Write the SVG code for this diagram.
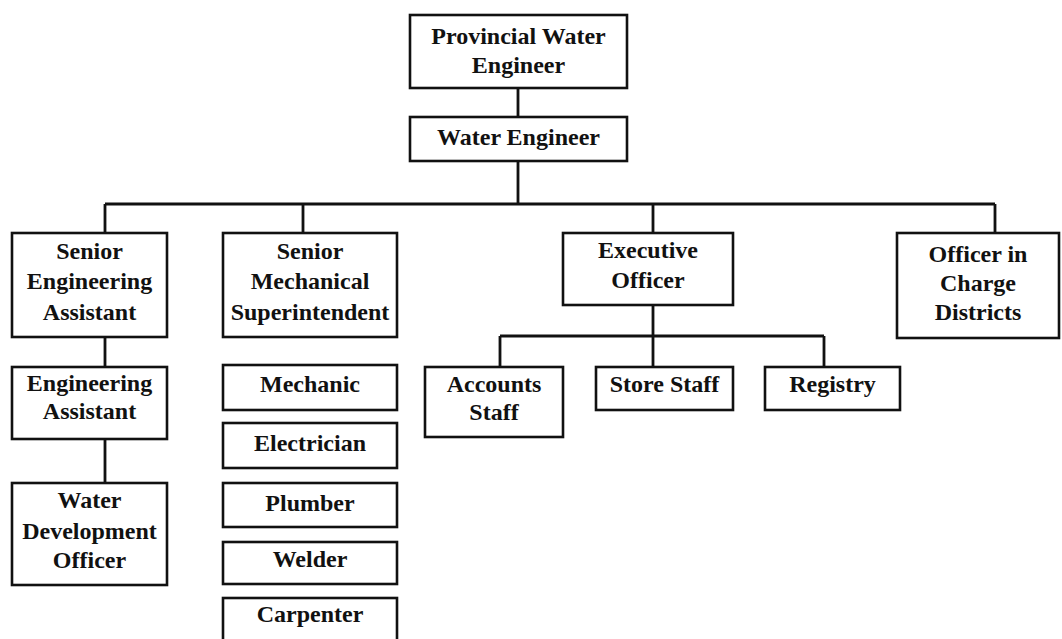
<svg xmlns="http://www.w3.org/2000/svg" width="1062" height="639" viewBox="0 0 1062 639">
<style>
.box{fill:#fff;stroke:#111;stroke-width:2.6}
.t{font-family:"Liberation Serif","Times New Roman",serif;font-size:24px;font-weight:bold;fill:#111;text-anchor:middle}
.c{fill:none;stroke:#111;stroke-width:2.8}
</style>
<rect width="1062" height="639" fill="#fff"/>
<g id="connectors">
<path class="c" d="M518 88V117M518 161V204M105 204H995M105 204V233M303 204V233M653 204V233M995 204V233M105 337V367M105 439V483M653 305V336M500 336H824M500 336V367M653 336V367M824 336V367"/>
</g>
<g id="n-provincial"><rect class="box" x="410" y="15" width="217" height="73"/><text class="t" x="518.5" y="44">Provincial Water</text><text class="t" x="518.5" y="73">Engineer</text></g>
<g id="n-water-engineer"><rect class="box" x="410" y="117" width="217" height="44"/><text class="t" x="518.5" y="145">Water Engineer</text></g>
<g id="n-sea"><rect class="box" x="12" y="233" width="155" height="104"/><text class="t" x="89.5" y="259">Senior</text><text class="t" x="89.5" y="289">Engineering</text><text class="t" x="89.5" y="320">Assistant</text></g>
<g id="n-smi"><rect class="box" x="223" y="233" width="174" height="104"/><text class="t" x="310" y="259">Senior</text><text class="t" x="310" y="289">Mechanical</text><text class="t" x="310" y="320">Superintendent</text></g>
<g id="n-exec"><rect class="box" x="563" y="233" width="170" height="72"/><text class="t" x="648" y="258">Executive</text><text class="t" x="648" y="288">Officer</text></g>
<g id="n-oic"><rect class="box" x="897" y="233" width="162" height="105"/><text class="t" x="978" y="262">Officer in</text><text class="t" x="978" y="291">Charge</text><text class="t" x="978" y="320">Districts</text></g>
<g id="n-ea"><rect class="box" x="12" y="367" width="155" height="72"/><text class="t" x="89.5" y="391">Engineering</text><text class="t" x="89.5" y="419">Assistant</text></g>
<g id="n-wdo"><rect class="box" x="12" y="483" width="155" height="102"/><text class="t" x="89.5" y="508">Water</text><text class="t" x="89.5" y="539">Development</text><text class="t" x="89.5" y="568">Officer</text></g>
<g id="n-mechanic"><rect class="box" x="223" y="365" width="174" height="45"/><text class="t" x="310" y="392">Mechanic</text></g>
<g id="n-electrician"><rect class="box" x="223" y="423" width="174" height="45"/><text class="t" x="310" y="451">Electrician</text></g>
<g id="n-plumber"><rect class="box" x="223" y="483" width="174" height="44"/><text class="t" x="310" y="511">Plumber</text></g>
<g id="n-welder"><rect class="box" x="223" y="542" width="174" height="42"/><text class="t" x="310" y="567">Welder</text></g>
<g id="n-carpenter"><rect class="box" x="223" y="598" width="174" height="60"/><text class="t" x="310" y="622">Carpenter</text></g>
<g id="n-accounts"><rect class="box" x="425" y="367" width="138" height="70"/><text class="t" x="494" y="392">Accounts</text><text class="t" x="494" y="420">Staff</text></g>
<g id="n-store"><rect class="box" x="596" y="367" width="137" height="43"/><text class="t" x="664.5" y="392">Store Staff</text></g>
<g id="n-registry"><rect class="box" x="765" y="367" width="135" height="43"/><text class="t" x="832.5" y="392">Registry</text></g>
</svg>
